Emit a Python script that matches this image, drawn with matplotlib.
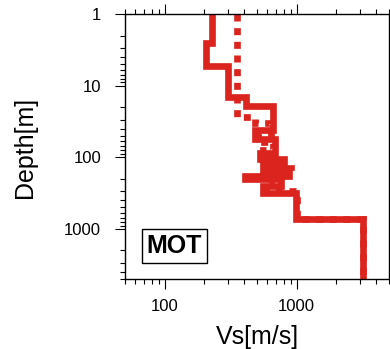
import numpy as np
import matplotlib
matplotlib.use('Agg')
import matplotlib.pyplot as plt

# Layer tops (depth, m) and shear-wave velocities (m/s)
solid_top = [1, 2.5, 5.4, 14.3, 19.3, 41, 55, 86, 104, 125, 150, 183, 200, 250, 318, 720]
solid_vs = [230, 207, 300, 415, 665, 482, 690, 525, 795, 560, 870, 405, 755, 560, 990, 3150]
dashed_top = [1, 27, 33, 48, 62, 78, 96, 118, 140, 165, 190, 225, 300, 728]
dashed_vs = [350, 482, 640, 505, 660, 560, 720, 590, 900, 540, 640, 580, 1005, 3180]
bottom_depth = 5000
site_name = "MOT"
xticks = [100, 1000]
yticks = [1, 10, 100, 1000]

def step(tops, vs, bottom):
    d = np.repeat(np.append(tops, bottom), 2)[1:-1]
    v = np.repeat(vs, 2)
    return v, d

plt.rcParams['font.family'] = ['Liberation Sans', 'DejaVu Sans']
fig = plt.figure(figsize=(3.9, 3.49), dpi=100)
ax = fig.add_axes([125/390, 1-279/349, 264/390, 265/349])

red = '#dc241f'
v, d = step(solid_top, solid_vs, bottom_depth)
ax.plot(v, d, color=red, lw=4.8, solid_capstyle='butt', solid_joinstyle='miter')
v, d = step(dashed_top, dashed_vs, bottom_depth)
ax.plot(v, d, color=red, lw=4.8, dashes=(1.05, 1.0), dash_capstyle='butt', dash_joinstyle='miter')

ax.set_xscale('log')
ax.set_yscale('log')
ax.set_xlim(50, 5000)
ax.set_ylim(5000, 1)
ax.set_xticks(xticks)
ax.set_xticklabels([str(t) for t in xticks])
ax.set_yticks(yticks)
ax.set_yticklabels([str(t) for t in yticks])

ax.tick_params(which='both', direction='out', top=True, right=True, width=0.8, labelsize=12)
ax.tick_params(which='major', length=7.2)
ax.tick_params(which='minor', length=3.6)
ax.tick_params(axis='y', pad=10)
ax.tick_params(axis='x', pad=7)
for s in ax.spines.values():
    s.set_linewidth(1.0)

ax.set_xlabel('Vs[m/s]', fontsize=18, va='center')
ax.xaxis.set_label_coords(0.5, -0.217)
ax.set_ylabel('Depth[m]', fontsize=18, va='center')
ax.yaxis.set_label_coords(-0.379, 0.498)

ax.text(0.1875, 0.126, site_name, transform=ax.transAxes, fontsize=18, fontweight='bold',
        ha='center', va='center',
        bbox=dict(boxstyle='square,pad=0.2', facecolor='white', edgecolor='black', linewidth=1.0))

fig.savefig('out.png', dpi=100)
